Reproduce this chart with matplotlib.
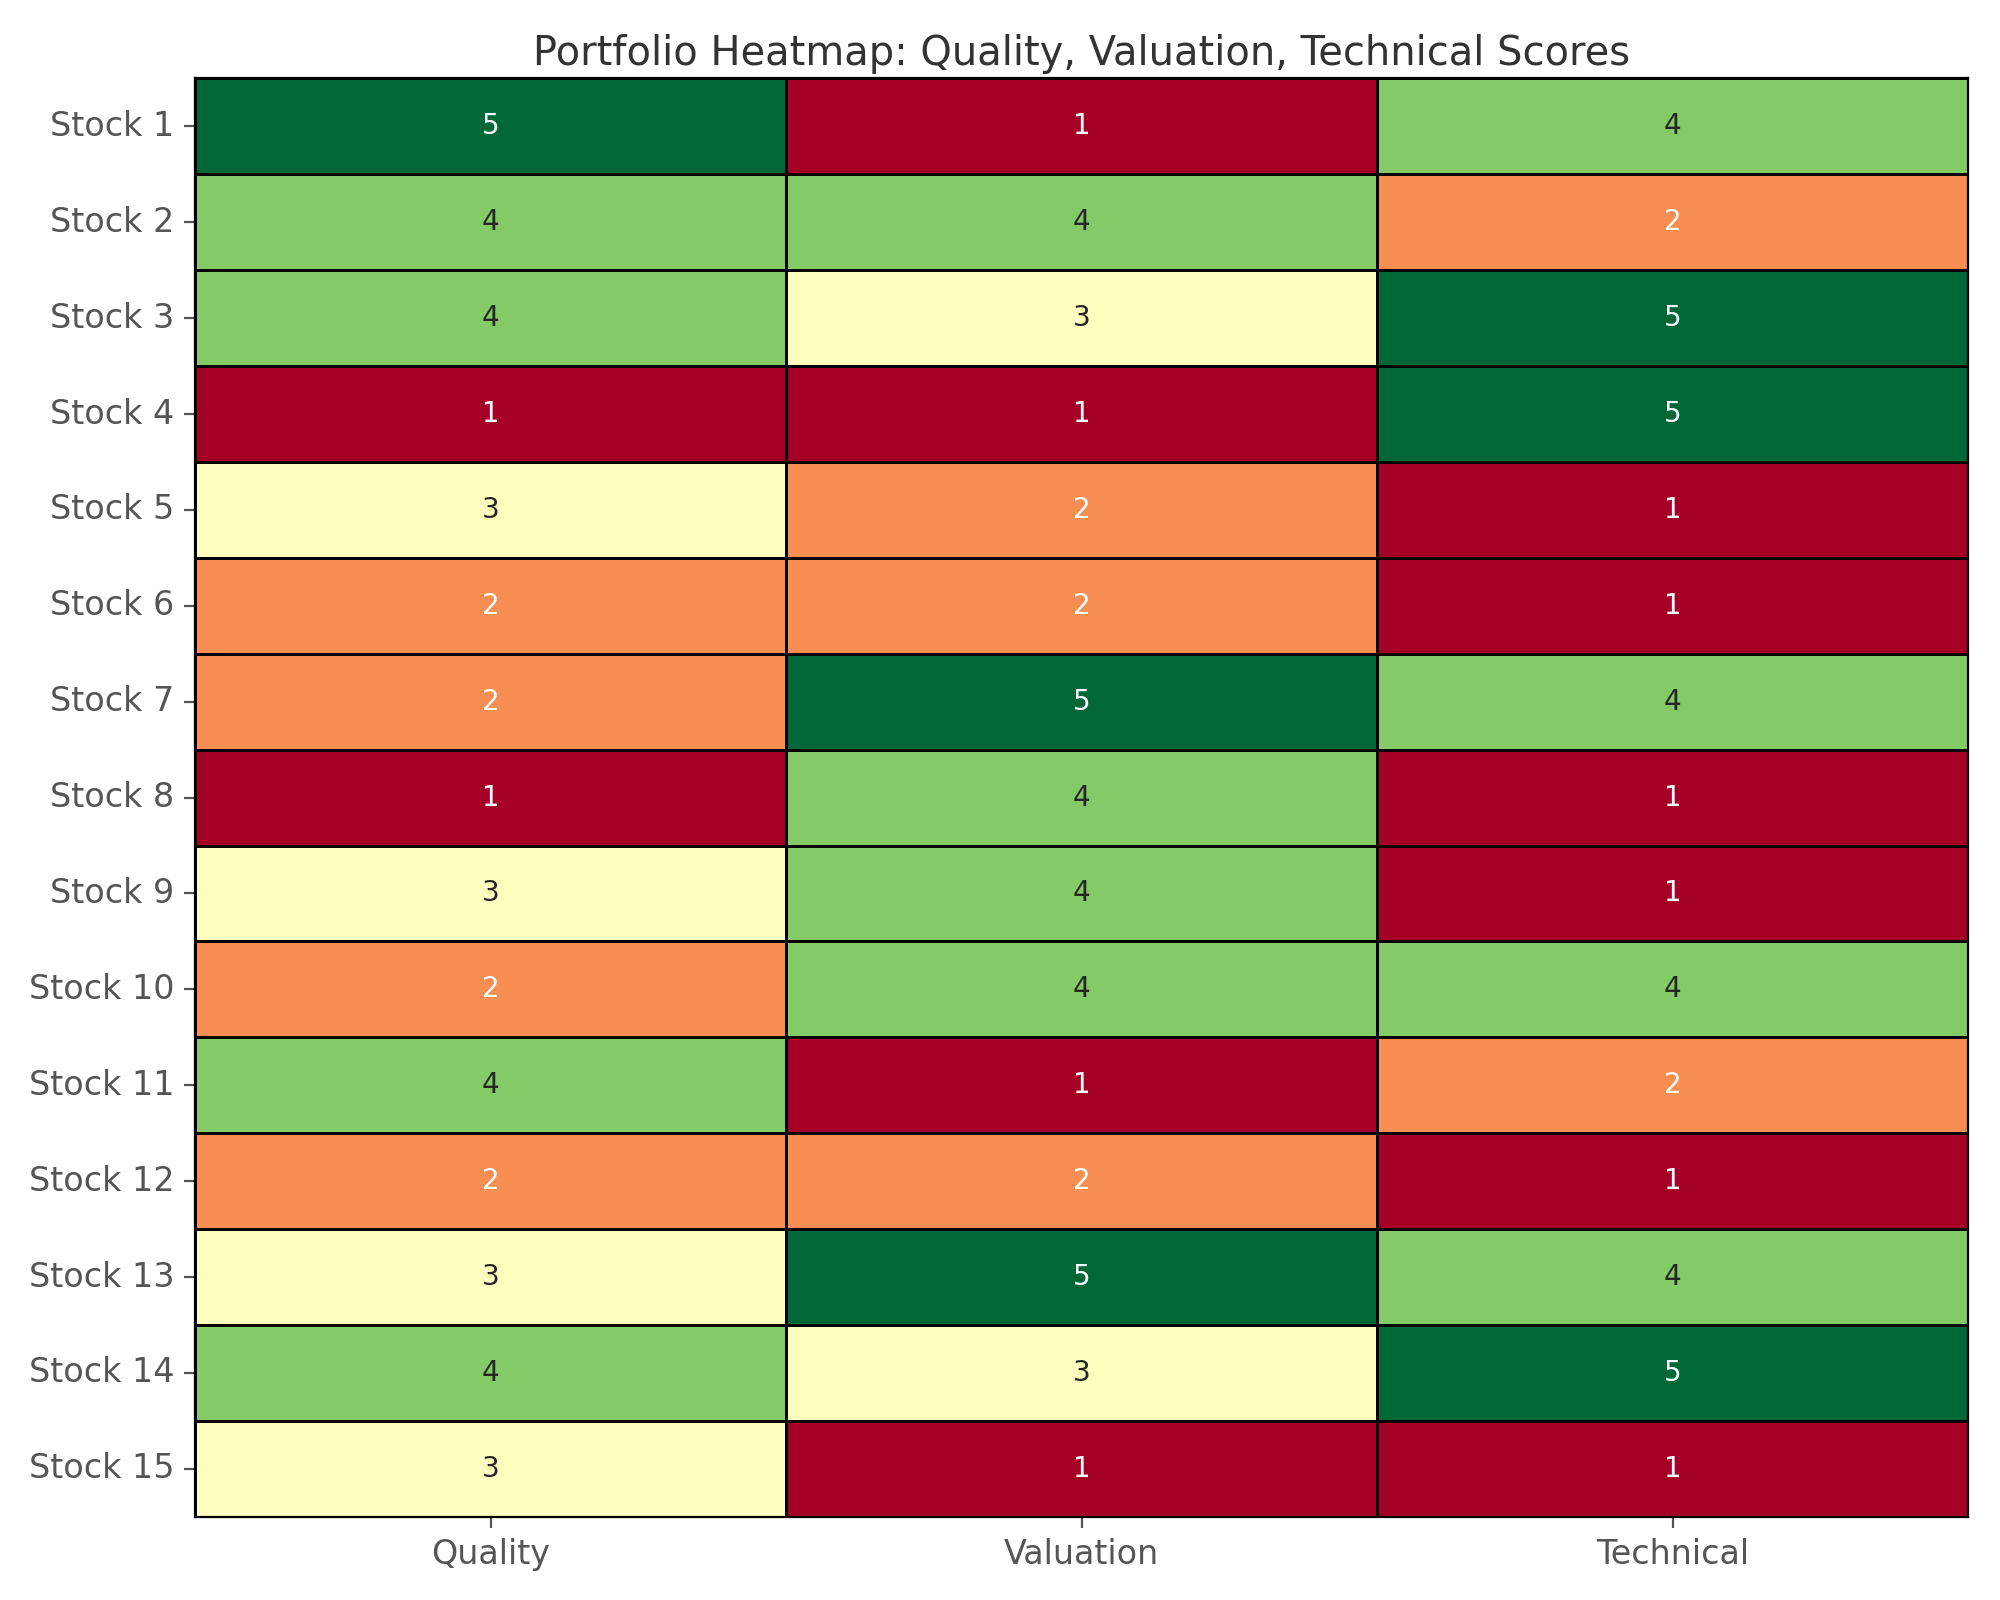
import matplotlib
matplotlib.use("Agg")
import matplotlib.pyplot as plt
import pandas as pd
import seaborn as sns

stocks = [f"Stock {i}" for i in range(1, 16)]
metrics = ["Quality", "Valuation", "Technical"]
quality = [5, 4, 4, 1, 3, 2, 2, 1, 3, 2, 4, 2, 3, 4, 3]
valuation = [1, 4, 3, 1, 2, 2, 5, 4, 4, 4, 1, 2, 5, 3, 1]
technical = [4, 2, 5, 5, 1, 1, 4, 1, 1, 4, 2, 1, 4, 5, 1]


def plot_heatmap():
    """
    Heatmap der Scores pro Aktie.
    """
    df = pd.DataFrame({"Quality": quality, "Valuation": valuation, "Technical": technical},
                      index=stocks)[metrics]

    fig, ax = plt.subplots(figsize=(10, 8), dpi=200)
    sns.heatmap(df, cmap="RdYlGn", vmin=1, vmax=5, annot=True, fmt="d",
                linewidths=1, linecolor="black", cbar=False, ax=ax,
                annot_kws={"fontsize": 10})

    ax.set_title("Portfolio Heatmap: Quality, Valuation, Technical Scores",
                 fontsize=14.4, color="#333333", pad=5)
    ax.tick_params(axis="both", labelsize=12, colors="#555555", length=4)
    plt.setp(ax.get_yticklabels(), rotation=0)
    plt.setp(ax.get_xticklabels(), rotation=0)
    for spine in ax.spines.values():
        spine.set_visible(True)
        spine.set_color("black")
        spine.set_linewidth(0.8)

    plt.subplots_adjust(left=0.0975, right=0.984, top=0.951, bottom=0.052)
    plt.savefig("out.png")


if __name__ == "__main__":
    plot_heatmap()
